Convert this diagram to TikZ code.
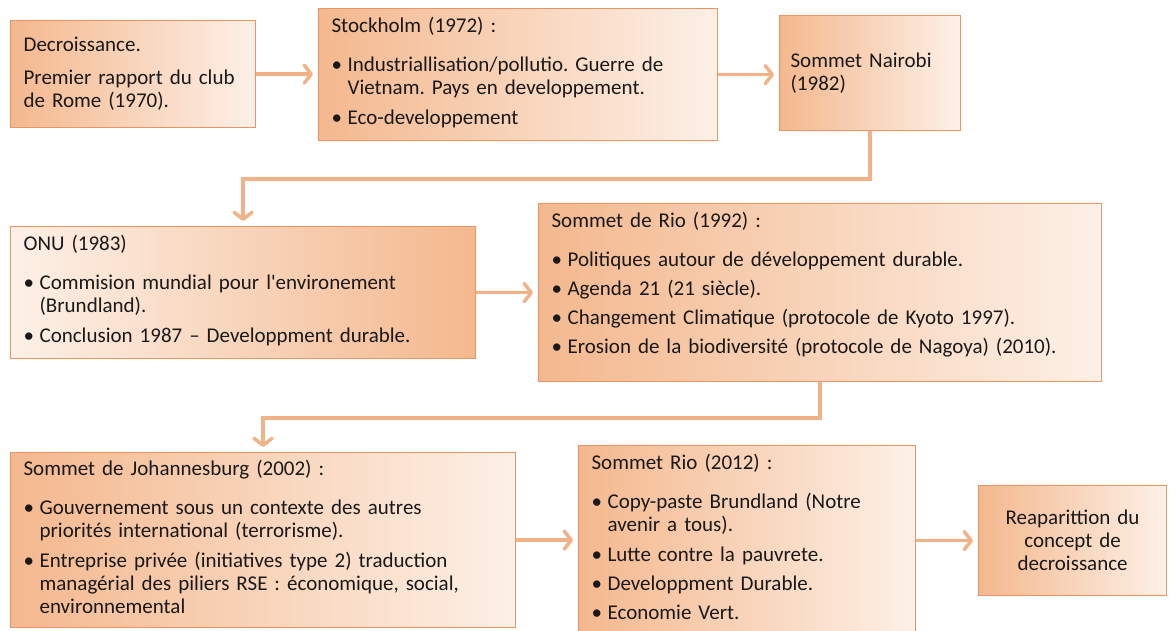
\documentclass[tikz,border=0pt]{standalone}
\usepackage{fontspec}
\setmainfont{Carlito}
\usetikzlibrary{arrows.meta}

\definecolor{bordure}{RGB}{230,150,100}
\definecolor{trait}{RGB}{242,178,135}
\definecolor{peche}{RGB}{244,184,142}
\definecolor{pechepale}{RGB}{253,240,231}

\newcommand{\corps}{\fontsize{21}{23}\selectfont\frenchspacing}
\newcommand{\puce}[1]{\par\vspace{6pt}\noindent\makebox[16pt][l]{\textbullet}%
    \parbox[t]{\dimexpr\hsize-16pt\relax}{\raggedright\strut#1\strut}}
\newcommand{\entete}[1]{\noindent #1\par\vspace{10pt}}

\begin{document}
\begin{tikzpicture}[x=1pt, y=-1pt,
        boite/.style={draw=bordure, line width=1.2pt, left color=peche, right color=pechepale,
            anchor=north west, inner xsep=13pt, inner ysep=4pt, align=left, font=\corps, text=black!90},
        boiteinv/.style={boite, left color=pechepale, right color=peche},
        fleche/.style={draw=trait, line width=3.5pt, -{Straight Barb[length=7pt, width=18pt, round]},
            shorten >=5pt}
    ]
    \useasboundingbox (0,0) rectangle (1176,630);
    \clip (0,0) rectangle (1176,630);

    % rangee du haut
    \node[boite, minimum width=245pt, minimum height=107pt, text width=219pt] (deco) at (10,20)
        {Decroissance.\par\vspace{10pt}Premier rapport du club\\de Rome (1970).};
    \node[boite, minimum width=399pt, minimum height=132pt, text width=373pt] (stockholm) at (318,8)
        {\entete{Stockholm (1972) :}%
         \puce{Industriallisation/pollutio. Guerre de\\Vietnam. Pays en developpement.}%
         \puce{Eco-developpement}};
    \node[boite, minimum width=181pt, minimum height=115pt, text width=159pt, inner xsep=11pt] (nairobi) at (779,15)
        {Sommet Nairobi\\(1982)};

    % rangee du milieu
    \node[boiteinv, minimum width=465pt, minimum height=132pt, text width=439pt] (onu) at (10,226)
        {\entete{ONU (1983)}%
         \puce{Commision mundial pour l\textquotesingle environement\\(Brundland).}%
         \puce{Conclusion 1987 – Developpment durable.}};
    \node[boite, minimum width=563pt, minimum height=178pt, text width=537pt] (rio) at (538,203)
        {\entete{Sommet de Rio (1992) :}%
         \puce{Politiques autour de développement durable.}%
         \puce{Agenda 21 (21 siècle).}%
         \puce{Changement Climatique (protocole de Kyoto 1997).}%
         \puce{Erosion de la biodiversité (protocole de Nagoya) (2010).}\par\vspace{12pt}};

    % rangee du bas
    \node[boite, minimum width=505pt, minimum height=175pt, text width=479pt] (johannesburg) at (10,452)
        {\entete{Sommet de Johannesburg (2002) :}%
         \puce{Gouvernement sous un contexte des autres\\priorités international (terrorisme).}%
         \puce{Entreprise privée (initiatives type 2) traduction\\managérial des piliers RSE : économique, social,\\environnemental}};
    \node[boite, minimum width=337pt, minimum height=190pt, text width=311pt] (rio2012) at (578,445)
        {\entete{Sommet Rio (2012) :}%
         \puce{Copy-paste Brundland (Notre\\avenir a tous).}%
         \puce{Lutte contre la pauvrete.}%
         \puce{Developpment Durable.}%
         \puce{Economie Vert.}};
    \node[boite, minimum width=188pt, minimum height=110pt, text width=162pt, align=center] (reapp) at (978,485)
        {Reaparittion du\\concept de\\decroissance};

    % connecteurs
    \draw[fleche] (deco.east) -- (deco.east -| stockholm.west);
    \draw[fleche] (stockholm.east) -- (stockholm.east -| nairobi.west);
    \draw[fleche] (nairobi.south) -- ++(0,48) -| (onu.north);
    \draw[fleche] (onu.east) -- (onu.east -| rio.west);
    \draw[fleche] (rio.south) -- ++(0,36) -| (johannesburg.north);
    \draw[fleche] (johannesburg.east) -- (johannesburg.east -| rio2012.west);
    \draw[fleche] (rio2012.east) -- (rio2012.east -| reapp.west);

\end{tikzpicture}
\end{document}
